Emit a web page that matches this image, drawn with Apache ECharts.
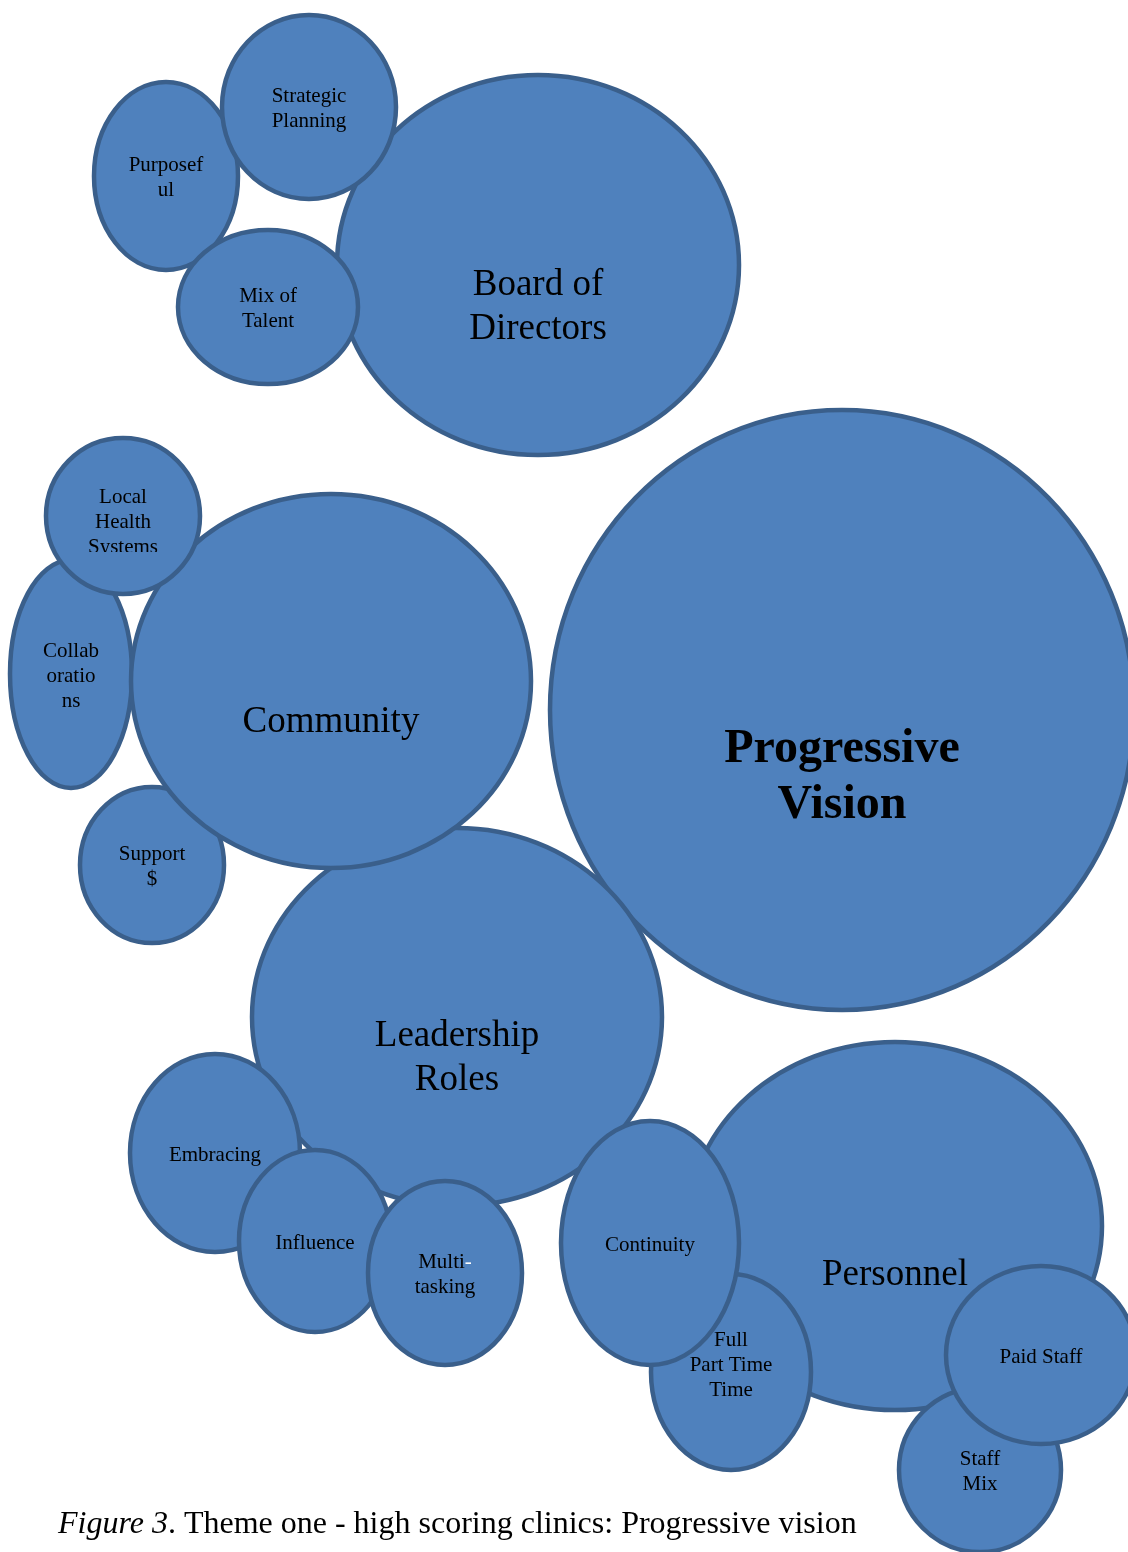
<!DOCTYPE html>
<html>
<head>
<meta charset="utf-8">
<script src="https://cdn.jsdelivr.net/npm/echarts@6/dist/echarts.min.js"></script>
<style>
  html, body { margin: 0; padding: 0; background: #fff; }
  #chart { width: 1128px; height: 1552px; }
</style>
</head>
<body>
<div id="chart"></div>
<script>
// bubbles, listed bottom-most first (later ones sit on top)
const labels = [
  'Progressive\nVision', 'Board of\nDirectors', 'Purposef\nul', 'Strategic\nPlanning', 'Mix of\nTalent',
  'Leadership\nRoles', 'Support\n$', 'Collab\noratio\nns', 'Community', 'Local\nHealth\nSystems',
  'Embracing', 'Influence', 'Multi-\ntasking', 'Personnel', 'Full\nPart Time\nTime',
  'Continuity', 'Staff\nMix', 'Paid Staff'
];
// 0 = core theme, 1 = theme, 2 = sub theme
const levels = [0, 1, 2, 2, 2, 1, 2, 2, 1, 2, 2, 2, 2, 1, 2, 2, 2, 2];
// ellipse centre and half widths, in picture units
const centerX = [842, 538, 166, 309, 268, 457, 152, 71, 331, 123, 215, 315, 445, 895, 731, 650, 980, 1041];
const centerY = [710, 265, 176, 107, 307, 1017, 865, 674, 681, 516, 1153, 1241, 1273, 1226, 1372, 1243, 1470, 1355];
const radiusX = [292, 201, 72, 87, 90, 205, 72, 61, 200, 77, 85, 76, 77, 207, 80, 89, 81, 95];
const radiusY = [300, 190, 94, 92, 77, 189, 78, 114, 187, 78, 99, 91, 92, 184, 98, 122, 82, 89];

const caption = 'Figure 3';
const captionRest = '. Theme one - high scoring clinics: Progressive vision';

const FILL = '#4f81bd';
const EDGE = '#3a5f8b';
const FONT = '"Liberation Serif", "Times New Roman", serif';
// text boxes that sit off centre in the source
const textNudge = { 'Personnel': 9, 'Full\nPart Time\nTime': -9, 'Local\nHealth\nSystems': 4 };

const data = labels.map((name, i) => [centerX[i], centerY[i], radiusX[i], radiusY[i], levels[i], name]);

function renderBubble(params, api) {
  const c = api.coord([api.value(0), api.value(1)]);
  const s = api.size([api.value(2), api.value(3)]);
  const lvl = api.value(4);
  const name = labels[params.dataIndex];
  const rx = s[0], ry = s[1];

  let fontSize = 21, lineHeight = 25, weight = 'normal', dy = 2;
  if (lvl === 1) { fontSize = 37; lineHeight = 44; dy = ry * 0.21 + 2; }
  if (lvl === 0) { fontSize = 48; lineHeight = 56; weight = 'bold'; dy = ry * 0.22 + 2; }
  dy += textNudge[name] || 0;

  let textStyle = {
    text: name,
    x: c[0],
    y: c[1] + dy,
    align: 'center',
    verticalAlign: 'middle',
    fontFamily: FONT,
    fontSize: fontSize,
    fontWeight: weight,
    lineHeight: lineHeight,
    fill: '#000'
  };
  if (name.indexOf('Multi-') === 0) {
    // the hyphen shows in white in the source
    textStyle.text = '{a|Multi}{w|-}\n{a|tasking}';
    textStyle.rich = {
      a: { fontFamily: FONT, fontSize: fontSize, lineHeight: lineHeight, fill: '#000' },
      w: { fontFamily: FONT, fontSize: fontSize, lineHeight: lineHeight, fill: '#fff' }
    };
  }

  const text = { type: 'text', style: textStyle };
  if (name.indexOf('Systems') > 0) {
    // text box cuts the last line off
    text.clipPath = { type: 'rect', shape: { x: c[0] - rx, y: c[1] - ry, width: rx * 2, height: ry + 36 } };
  }

  return {
    type: 'group',
    children: [
      {
        type: 'ellipse',
        shape: { cx: c[0], cy: c[1], rx: rx, ry: ry },
        style: { fill: FILL, stroke: EDGE, lineWidth: 4.5 }
      },
      text
    ]
  };
}

const chart = echarts.init(document.getElementById('chart'));
chart.setOption({
  animation: false,
  backgroundColor: '#fff',
  title: {
    text: '{i|' + caption + '}{r|' + captionRest + '}',
    left: 58,
    top: 1509,
    padding: 0,
    textStyle: {
      fontWeight: 'normal',
      rich: {
        i: { fontFamily: FONT, fontSize: 32, fontStyle: 'italic', fontWeight: 'normal', color: '#000' },
        r: { fontFamily: FONT, fontSize: 32, fontWeight: 'normal', color: '#000' }
      }
    }
  },
  grid: { left: 0, right: 0, top: 0, bottom: 0 },
  xAxis: { type: 'value', min: 0, max: 1128, show: false },
  yAxis: { type: 'value', min: 0, max: 1552, inverse: true, show: false },
  series: [{
    type: 'custom',
    silent: true,
    clip: false,
    renderItem: renderBubble,
    data: data
  }]
});
</script>
</body>
</html>
